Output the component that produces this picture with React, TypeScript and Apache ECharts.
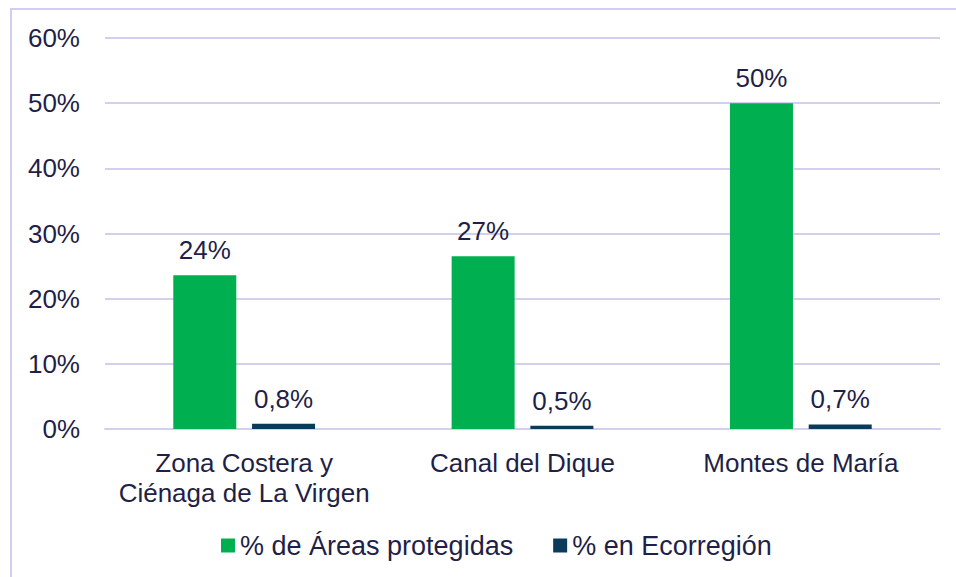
import React, { useEffect, useRef } from "react";
import * as echarts from "echarts";

const categories = ["Zona Costera y\nCiénaga de La Virgen", "Canal del Dique", "Montes de María"];
const seriesNames = ["% de Áreas protegidas", "% en Ecorregión"];
const protegidas = [23.6, 26.5, 50.0];
const ecorregion = [0.8, 0.5, 0.7];
const yTicks = { min: 0, max: 60, interval: 10 };

const TEXT = "#1F1F47";
const LINE = "#D3D0EE";
const FONT = "Liberation Sans, Arial, sans-serif";

export default function App() {
  const ref = useRef<HTMLDivElement>(null);
  useEffect(() => {
    if (!ref.current) return;
    const chart = echarts.init(ref.current, undefined, { renderer: "svg" });
    chart.setOption({
      animation: false,
      backgroundColor: "#ffffff",
      textStyle: { fontFamily: FONT, color: TEXT },
      graphic: [
        {
          type: "rect",
          shape: { x: 11, y: 9, width: 1000, height: 700 },
          style: { fill: "none", stroke: "#D2CEF2", lineWidth: 2 },
          silent: true,
        },
      ],
      grid: { left: 105, right: 16, top: 38, bottom: 148, containLabel: false },
      legend: {
        left: 221,
        top: 532,
        padding: 0,
        itemWidth: 14,
        itemHeight: 14,
        itemGap: 40,
        icon: "rect",
        textStyle: { fontSize: 27, color: TEXT, fontFamily: FONT },
        data: seriesNames,
      },
      xAxis: {
        type: "category",
        data: categories,
        axisLine: { lineStyle: { color: LINE, width: 2 } },
        axisTick: { show: false },
        axisLabel: {
          fontSize: 26,
          color: TEXT,
          fontFamily: FONT,
          lineHeight: 30,
          margin: 19,
          interval: 0,
        },
      },
      yAxis: {
        type: "value",
        min: yTicks.min,
        max: yTicks.max,
        interval: yTicks.interval,
        axisLine: { show: false },
        axisTick: { show: false },
        splitLine: { lineStyle: { color: LINE, width: 2 } },
        axisLabel: {
          fontSize: 26,
          color: TEXT,
          fontFamily: FONT,
          margin: 25,
          formatter: (v: number) => `${v}%`,
        },
      },
      series: [
        {
          name: seriesNames[0],
          type: "bar",
          data: protegidas,
          barWidth: 63,
          barGap: "25%",
          itemStyle: { color: "#00B050" },
          label: {
            show: true,
            position: "top",
            distance: 12,
            fontSize: 26,
            color: TEXT,
            fontFamily: FONT,
            formatter: (p: any) => `${Math.round(p.value)}%`,
          },
        },
        {
          name: seriesNames[1],
          type: "bar",
          data: ecorregion,
          barWidth: 63,
          barGap: "25%",
          itemStyle: { color: "#0B3B5B" },
          label: {
            show: true,
            position: "top",
            distance: 12,
            fontSize: 26,
            color: TEXT,
            fontFamily: FONT,
            formatter: (p: any) => `${p.value.toFixed(1).replace(".", ",")}%`,
          },
        },
      ],
    });
    return () => chart.dispose();
  }, []);
  return (
    <div
      ref={ref}
      style={{ position: "absolute", left: 0, top: 0, width: 956, height: 577 }}
    />
  );
}
